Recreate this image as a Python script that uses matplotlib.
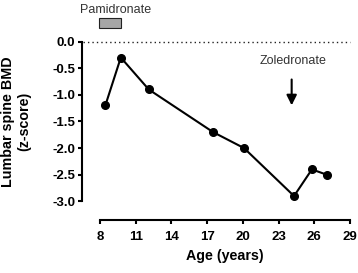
import matplotlib
matplotlib.use("Agg")
import matplotlib.pyplot as plt
from matplotlib.patches import Rectangle

age = [8.45, 9.75, 12.1, 17.5, 20.1, 24.3, 25.8, 27.05]
bmd = [-1.2, -0.3, -0.9, -1.7, -2.0, -2.9, -2.4, -2.5]
xticks = [8, 11, 14, 17, 20, 23, 26, 29]
yticks = [0.0, -0.5, -1.0, -1.5, -2.0, -2.5, -3.0]
pam_start, pam_end = 7.95, 9.75
zol_age = 24.1

plt.rcParams['font.family'] = ['Liberation Sans', 'DejaVu Sans']

fig = plt.figure(figsize=(3.58, 2.73), dpi=100)
ax = fig.add_axes([82 / 358, 53 / 273, 268 / 358, 220 / 273])
xlo, xhi = 6.49, 29.0
ylo, yhi = -3.35, 0.78
ax.set_xlim(xlo, xhi)
ax.set_ylim(ylo, yhi)

ax.plot(age, bmd, color='black', lw=1.5, marker='o', ms=5.5, zorder=3, clip_on=False)
ax.plot([6.6, 29.0], [0, 0], color='#222222', lw=1.0, ls=(0, (1, 2.2)), clip_on=False)

for s in ['top', 'right']:
    ax.spines[s].set_visible(False)
ax.spines['left'].set_bounds(-3.0, 0.0)
ax.spines['bottom'].set_bounds(8, 29)
ax.spines['left'].set_linewidth(1.5)
ax.spines['bottom'].set_linewidth(1.5)

ax.set_xticks(xticks)
ax.set_xticklabels([str(t) for t in xticks], fontweight='bold', fontsize=9.5)
ax.set_yticks(yticks)
ax.set_yticklabels([f"{t:.1f}" for t in yticks], fontweight='bold', fontsize=9.5)
ax.tick_params(axis='both', direction='out', length=3, width=1.5, pad=2)
ax.tick_params(axis='x', pad=5)

ax.set_xlabel('Age (years)', fontweight='bold', fontsize=10.3, labelpad=11)
ax.set_ylabel('Lumbar spine BMD\n(z-score)', fontweight='bold', fontsize=10.3,
              linespacing=1.2)
ax.xaxis.set_label_coords((18.5 - xlo) / (xhi - xlo), -0.13)
ax.yaxis.set_label_coords(-0.19, (-1.5 - ylo) / (yhi - ylo))

# Pamidronate bar
ax.add_patch(Rectangle((pam_start, 0.25), pam_end - pam_start, 0.19,
                       facecolor='#a6a6a6', edgecolor='#222222', lw=0.8, clip_on=False))
ax.text(9.35, 0.6, 'Pamidronate', ha='center', va='center',
        fontsize=9, color='#333333')

# Zoledronate arrow
ax.text(24.25, -0.37, 'Zoledronate', ha='center', va='center', fontsize=9, color='#333333')
ax.annotate('', xy=(zol_age, -1.25), xytext=(zol_age, -0.66),
            arrowprops=dict(arrowstyle='-|>', color='black', lw=1.5, mutation_scale=15))

fig.savefig('out.png', dpi=100)
